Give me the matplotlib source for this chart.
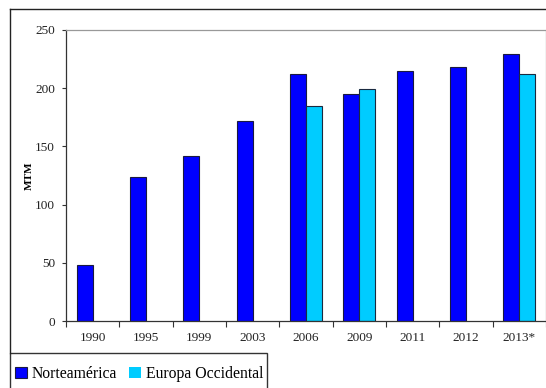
import numpy as np
import matplotlib.pyplot as plt
from matplotlib.patches import Rectangle, Patch
from matplotlib.lines import Line2D

plt.rcParams['font.family'] = ['Liberation Serif', 'DejaVu Serif']

years = ['1990', '1995', '1999', '2003', '2006', '2009', '2011', '2012', '2013*']
norteamerica = [48, 124, 142, 172, 212, 195, 215, 218, 229]
europa = [np.nan, np.nan, np.nan, np.nan, 185, 199, np.nan, np.nan, 212]

c_na = '#0000ff'
c_eu = '#00ccff'

W, H = 546, 388
fig = plt.figure(figsize=(W / 100, H / 100), dpi=100)
ax = fig.add_axes([66 / W, 1 - 321 / H, 480 / W, 291 / H])

x = np.arange(len(years))
bw = 0.3
ax.bar(x - bw / 2, norteamerica, bw, color=c_na, edgecolor='#1a1a40', linewidth=0.8)
ax.bar(x + bw / 2, europa, bw, color=c_eu, edgecolor='#1a2a40', linewidth=0.8)

ax.set_xlim(-0.5, len(years) - 0.5)
ax.set_ylim(0, 250)
ax.set_yticks(range(0, 251, 50))
ax.tick_params(axis='y', direction='out', length=3, width=0.8, labelsize=9.5, pad=5,
               color='#333333', labelcolor='#222222')
# category ticks sit between groups, labels at centres
ax.set_xticks(np.arange(-0.5, len(years), 1.0))
ax.set_xticklabels([])
ax.set_xticks(x, minor=True)
ax.set_xticklabels(years, minor=True)
ax.tick_params(axis='x', which='major', direction='out', length=4, width=0.8, color='#333333')
ax.tick_params(axis='x', which='minor', length=0, labelsize=9.5, pad=8, labelcolor='#222222')

for s in ['left', 'bottom']:
    ax.spines[s].set_color('#333333')
    ax.spines[s].set_linewidth(0.9)
for s in ['top', 'right']:
    ax.spines[s].set_color('#999999')
    ax.spines[s].set_linewidth(0.9)

ax.set_ylabel('MTM', fontsize=8, fontweight='bold', labelpad=1)

# outer chart frame
fx, fy = 10 / W, 1 - 9 / H
fig.add_artist(Line2D([fx, 1], [fy, fy], transform=fig.transFigure, color='#222222', lw=1))
fig.add_artist(Line2D([fx, fx], [fy, 1 - 353 / H], transform=fig.transFigure, color='#222222', lw=1))

# legend box
fig.add_artist(Rectangle((10 / W, -0.01), 257 / W, 1 - 353 / H + 0.01,
                         transform=fig.transFigure, fill=False, edgecolor='#333333', lw=1))
handles = [Patch(facecolor=c_na, edgecolor='#1a1a40', linewidth=0.8),
           Patch(facecolor=c_eu, edgecolor='none')]
fig.legend(handles, ['Norteamérica', 'Europa Occidental'], ncol=2, frameon=False,
           loc='center left', bbox_to_anchor=(15 / W, 1 - 374 / H), fontsize=11.3,
           handlelength=0.75, handleheight=0.75, handletextpad=0.3, columnspacing=0.8,
           borderpad=0, borderaxespad=0)

fig.savefig('out.png', dpi=100)
